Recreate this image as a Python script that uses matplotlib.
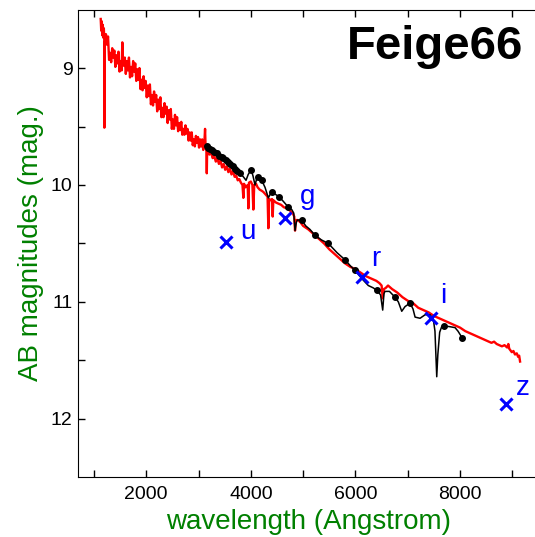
import numpy as np
import matplotlib
matplotlib.use('Agg')
import matplotlib.pyplot as plt

plt.rcParams['font.family'] = ['Liberation Sans', 'DejaVu Sans']

# red model spectrum (wavelength in Angstrom, AB mag)
red_wl = [1130, 1140, 1150, 1160, 1170, 1180, 1190, 1198, 1200, 1205,
          1210, 1230, 1250, 1270, 1290, 1310, 1330, 1350, 1370, 1390,
          1410, 1430, 1450, 1470, 1490, 1510, 1530, 1543, 1550, 1570, 1590,
          1610, 1630, 1650, 1670, 1690, 1710, 1730, 1750, 1770, 1790,
          1810, 1830, 1850, 1870, 1890, 1910, 1930, 1950, 1970, 1990,
          2010, 2030, 2050, 2070, 2090, 2110, 2130, 2150, 2170, 2190,
          2210, 2230, 2250, 2270, 2290, 2310, 2330, 2350, 2370, 2390,
          2410, 2430, 2450, 2470, 2490, 2510, 2530, 2550, 2570, 2590,
          2610, 2630, 2650, 2670, 2690, 2710, 2730, 2750, 2770, 2790,
          2810, 2830, 2850, 2870, 2890, 2910, 2930, 2950, 2970, 2990,
          3010, 3030, 3050, 3070, 3090, 3110, 3125, 3135, 3150, 3158, 3165, 3185, 3210, 3240, 3270,
          3300, 3330, 3360, 3390, 3420, 3450, 3480, 3510, 3540, 3570, 3600, 3630, 3660, 3690, 3720,
          3750, 3780, 3810, 3840, 3857, 3870, 3900, 3940, 3953, 3965, 4000, 4030, 4048, 4065, 4100,
          4130, 4170, 4210, 4240, 4280, 4320, 4335, 4350, 4380, 4405, 4418, 4430, 4480, 4530, 4580,
          4630, 4690, 4750, 4800, 4830, 4845, 4860, 4900, 4950, 5000, 5100, 5200, 5300, 5400, 5500,
          5600, 5700, 5800, 5900, 6000, 6100, 6200, 6300, 6400, 6460, 6500, 6521, 6545, 6580, 6623,
          6700, 6800, 6900, 7000, 7100, 7200, 7300, 7400, 7500, 7600, 7700, 7800, 7900, 8000, 8100,
          8200, 8300, 8400, 8500, 8600, 8650, 8700, 8750, 8800, 8850, 8900, 8923, 8940, 8989, 9020,
          9050, 9084, 9110, 9130, 9147]
red_mag = [8.58, 8.68, 8.60, 8.72, 8.63, 8.74, 8.66, 8.76, 9.51, 8.78,
           8.80, 8.71, 8.80, 8.73, 8.93, 8.87, 8.95, 8.83, 8.91, 8.85,
           8.99, 8.89, 8.96, 8.86, 9.03, 8.94, 9.02, 8.78, 8.89, 8.98, 8.91,
           9.05, 8.94, 9.02, 8.91, 9.08, 8.99, 9.07, 8.94, 9.03, 8.96,
           9.11, 9.01, 9.10, 9.00, 9.18, 9.10, 9.19, 9.07, 9.17, 9.11,
           9.25, 9.15, 9.24, 9.14, 9.31, 9.23, 9.32, 9.20, 9.29, 9.23,
           9.37, 9.27, 9.35, 9.25, 9.42, 9.34, 9.42, 9.30, 9.39, 9.33,
           9.47, 9.36, 9.44, 9.35, 9.52, 9.44, 9.52, 9.40, 9.49, 9.42,
           9.54, 9.47, 9.53, 9.46, 9.57, 9.52, 9.57, 9.49, 9.56, 9.52,
           9.62, 9.55, 9.62, 9.55, 9.66, 9.61, 9.67, 9.58, 9.64, 9.59,
           9.68, 9.61, 9.67, 9.61, 9.70, 9.65, 9.52, 9.68, 9.66, 9.90, 9.70, 9.73, 9.74, 9.72, 9.77,
           9.75, 9.80, 9.77, 9.82, 9.79, 9.85, 9.82, 9.87, 9.84, 9.89, 9.86, 9.91, 9.88, 9.93, 9.92,
           9.96, 9.95, 9.98, 10.00, 10.11, 9.99, 10.02, 10.00, 10.20, 9.98, 9.97, 10.00, 10.21, 10.00, 9.99,
           10.02, 10.04, 10.05, 10.06, 10.08, 10.10, 10.37, 10.12, 10.13, 10.12, 10.27, 10.13, 10.15, 10.16, 10.17,
           10.19, 10.20, 10.22, 10.24, 10.27, 10.39, 10.30, 10.30, 10.32, 10.35, 10.38, 10.42, 10.46, 10.50, 10.55,
           10.59, 10.63, 10.67, 10.70, 10.72, 10.75, 10.78, 10.80, 10.82, 10.84, 10.86, 10.97, 10.89, 10.88, 10.86,
           10.89, 10.92, 10.96, 10.99, 11.01, 11.05, 11.07, 11.09, 11.12, 11.14, 11.16, 11.18, 11.20, 11.22, 11.25,
           11.27, 11.29, 11.31, 11.33, 11.35, 11.34, 11.36, 11.37, 11.38, 11.37, 11.39, 11.36, 11.40, 11.43, 11.42,
           11.45, 11.44, 11.47, 11.46, 11.51]

# black observed spectrum
blk_wl = [3157, 3190, 3220, 3260, 3300, 3348, 3400, 3440, 3474, 3520, 3560, 3602, 3650, 3698, 3745,
          3793, 3857, 3908, 3950, 4004, 4040, 4080, 4110, 4144, 4208, 4271, 4335, 4370, 4400, 4470,
          4539, 4621, 4717, 4782, 4820, 4845, 4870, 4889, 4973, 5050, 5130, 5227, 5350, 5482, 5650,
          5801, 5900, 5992, 6120, 6246, 6340, 6407, 6480, 6521, 6545, 6565, 6650, 6757, 6820, 6885,
          6948, 7044, 7100, 7140, 7235, 7331, 7426, 7489, 7520, 7554, 7575, 7610, 7650, 7694, 7780,
          7904, 7960, 8044]
blk_mag = [9.67, 9.68, 9.69, 9.70, 9.72, 9.73, 9.75, 9.76, 9.77, 9.79, 9.80, 9.82, 9.84, 9.86, 9.88,
           9.90, 9.93, 9.96, 9.91, 9.87, 9.92, 10.00, 9.95, 9.93, 9.96, 10.02, 10.11, 10.08, 10.06, 10.08,
           10.10, 10.14, 10.19, 10.21, 10.24, 10.39, 10.32, 10.30, 10.30, 10.35, 10.38, 10.43, 10.47, 10.50, 10.58,
           10.64, 10.69, 10.73, 10.80, 10.86, 10.88, 10.90, 10.94, 11.07, 10.93, 10.91, 10.91, 10.96, 11.00, 11.08,
           11.04, 11.01, 11.06, 11.13, 11.14, 11.11, 11.11, 11.15, 11.25, 11.64, 11.45, 11.26, 11.21, 11.21, 11.21,
           11.22, 11.25, 11.31]
blk_dots = [3157, 3190, 3220, 3260, 3300, 3348, 3400, 3440, 3474, 3520, 3560, 3602, 3650, 3698, 3745,
            3793, 4004, 4144, 4208, 4400, 4539, 4717, 4973, 5227, 5482, 5801, 5992, 6407, 6757, 7044,
            7694, 8044]

# photometric bands
band_names = ['u', 'g', 'r', 'i', 'z']
band_wl = [3530, 4654, 6120, 7445, 8885]
band_mag = [10.49, 10.28, 10.79, 11.14, 11.87]
label_wl = [3952, 5094, 6379, 7669, 9199]
label_mag = [10.465, 10.166, 10.69, 11.01, 11.80]

fig = plt.figure(figsize=(5.35, 5.37), dpi=100)
ax = fig.add_axes([0.1462, 0.1112, 0.8604, 0.8709])

ax.plot(red_wl, red_mag, color='red', lw=1.7, zorder=2)
mask = np.isin(blk_wl, blk_dots)
ax.plot(blk_wl, blk_mag, color='black', lw=1.1, marker='o', ms=4, markevery=list(np.where(mask)[0]), zorder=3)
ax.plot(band_wl, band_mag, 'x', color='blue', ms=9, mew=2.2, zorder=4)
for name, x, y in zip(band_names, label_wl, label_mag):
    ax.text(x, y, name, color='blue', fontsize=20, ha='center', va='baseline')

ax.text(0.967, 0.8937, 'Feige66', transform=ax.transAxes, fontsize=34, fontweight='bold',
        ha='right', va='baseline')

ax.set_xlim(700, 9500)
ax.set_ylim(12.5, 8.5)
ax.set_xticks([2000, 4000, 6000, 8000])
ax.set_xticks(np.arange(1000, 9501, 1000), minor=True)
ax.set_yticks([9, 10, 11, 12])
ax.set_yticks([9.5, 10.5, 11.5], minor=True)
ax.tick_params(axis='x', which='both', direction='in', top=True, length=5, width=1, labelsize=14, pad=6.5)
ax.tick_params(axis='y', which='both', direction='in', right=False, length=5, width=1, labelsize=14, pad=4)
ax.spines['right'].set_visible(False)

ax.set_xlabel('wavelength (Angstrom)', color='green', fontsize=20, labelpad=4)
ax.set_ylabel('AB magnitudes (mag.)', color='green', fontsize=20, labelpad=5)

fig.savefig('out.png', dpi=100)
